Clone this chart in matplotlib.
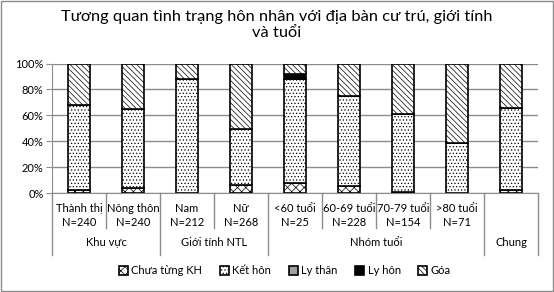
import numpy as np
import matplotlib
matplotlib.use('Agg')
import matplotlib.pyplot as plt
from matplotlib.patches import Rectangle
from matplotlib.lines import Line2D
from matplotlib.transforms import blended_transform_factory

plt.rcParams['font.family'] = ['Lato', 'DejaVu Sans']
plt.rcParams['hatch.linewidth'] = 0.5

# data (percent)
categories = ['Thành thị\nN=240', 'Nông thôn\nN=240', 'Nam\nN=212', 'Nữ\nN=268',
              '<60 tuổi\nN=25', '60-69 tuổi\nN=228', '70-79 tuổi\nN=154', '>80 tuổi\nN=71', '']
groups = ['Khu vực', 'Giới tính NTL', 'Nhóm tuổi', 'Chung']
group_sizes = [2, 2, 4, 1]
chua_tung_kh = [2.6, 4.1, 0.0, 5.9, 8.0, 5.7, 0.6, 0.0, 2.6]
ket_hon = [65.2, 60.8, 88.4, 43.3, 80.0, 69.6, 60.5, 38.9, 63.4]
ly_than = [0, 0, 0, 0, 0, 0, 0, 0, 0]
ly_hon = [0, 0, 0, 0, 4.0, 0, 0, 0, 0]
goa = [32.2, 35.1, 11.6, 50.8, 8.0, 24.7, 38.9, 61.1, 34.0]

series = [
    ('Chưa từng KH', chua_tung_kh, dict(facecolor='white', hatch='xxxx')),
    ('Kết hôn', ket_hon, dict(facecolor='white', hatch='.....')),
    ('Ly thân', ly_than, dict(facecolor='#a0a0a0')),
    ('Ly hôn', ly_hon, dict(facecolor='black')),
    ('Góa', goa, dict(facecolor='white', hatch='\\\\\\\\\\\\')),
]

fig = plt.figure(figsize=(5.54, 2.92), dpi=100)
ax = fig.add_axes([52 / 554, 99 / 292, 486 / 554, 129.4 / 292])

x = np.arange(len(categories))
bottom = np.zeros(len(categories))
for name, vals, style in series:
    vals = np.array(vals, dtype=float)
    ax.bar(x, vals, 0.4, bottom=bottom, edgecolor='black', linewidth=1.2,
           label=name, **style)
    bottom += vals

ax.set_xlim(-0.5, len(categories) - 0.5)
ax.set_ylim(0, 100)
ax.set_yticks(np.arange(0, 101, 20))
ax.set_yticklabels([f'{v}%' for v in range(0, 101, 20)], fontsize=8)
ax.yaxis.grid(True, color='#8c8c8c', linewidth=1)
ax.set_axisbelow(True)
for s in ['top', 'right']:
    ax.spines[s].set_visible(False)
ax.spines['left'].set_color('#8c8c8c')
ax.spines['bottom'].set_color('#8c8c8c')
ax.tick_params(axis='y', length=4, color='#8c8c8c', pad=2)
ax.set_xticks([])

# multi-level category labels
tr = blended_transform_factory(ax.transData, ax.transAxes)
for xi, lab in zip(x, categories):
    ax.text(xi, -0.08, lab, transform=tr, ha='center', va='top', fontsize=8,
            linespacing=1.25)

bounds = np.cumsum([0] + group_sizes) - 0.5
for i in range(len(categories) + 1):
    b = i - 0.5
    full = b in bounds
    ax.add_line(Line2D([b, b], [0, -0.48 if full else -0.27], transform=tr,
                       color='#8c8c8c', linewidth=1, clip_on=False))
for g, lo, hi in zip(groups, bounds[:-1], bounds[1:]):
    ax.text((lo + hi) / 2, -0.385, g, transform=tr, ha='center', va='center', fontsize=8)

fig.suptitle('Tương quan tình trạng hôn nhân với địa bàn cư trú, giới tính\nvà tuổi',
             x=0.5, y=0.965, fontsize=11.8, va='top', linespacing=1.12)

fig.legend(loc='center', bbox_to_anchor=(285 / 554, 1 - 271 / 292), ncol=5,
           frameon=False, fontsize=8, handlelength=0.8, handleheight=0.8,
           handletextpad=0.3, columnspacing=1.6)

fig.add_artist(Rectangle((0.001, 0.002), 0.997, 0.995, transform=fig.transFigure,
                         fill=False, edgecolor='#8c8c8c', linewidth=1))

fig.savefig('out.png', dpi=100)
